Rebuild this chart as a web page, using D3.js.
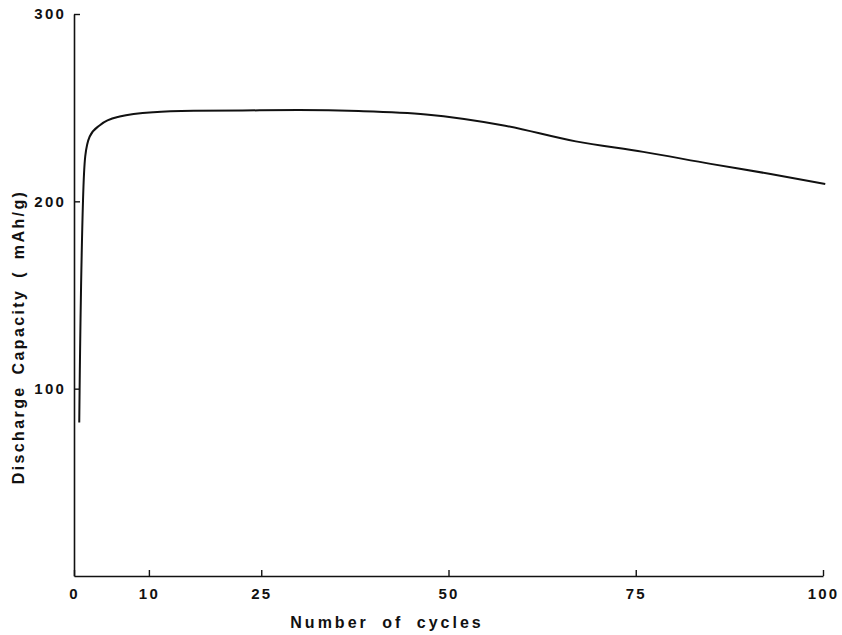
<!DOCTYPE html>
<html>
<head>
<meta charset="utf-8">
<script src="https://cdn.jsdelivr.net/npm/d3@7"></script>
<style>
    body { margin: 0; background: #fff; }
    svg { display: block; }
    .tick text { font-family: "Liberation Sans", Arial, sans-serif; font-weight: bold; font-size: 15px; letter-spacing: 2.2px; fill: #111; }
    .title { font-family: "Liberation Sans", Arial, sans-serif; font-weight: bold; font-size: 16px; fill: #111; }
</style>
</head>
<body>
<svg id="chart" width="842" height="635"></svg>
<script>
// values
const cycles   = [0.7, 0.75, 1.2, 1.5, 2.1, 3.5, 6.1, 10.6, 16, 22.5, 30, 38, 47, 57, 67, 76, 85, 93, 100.3];
const capacity = [82, 100, 200, 224, 234.6, 240.8, 245.3, 247.6, 248.3, 248.5, 248.7, 248.2, 246.4, 240.8, 232, 226.4, 220, 214.6, 209.3];

const xTicks = [0, 10, 25, 50, 75, 100];
const yTicks = [100, 200, 300];

const xTitle = 'Number of cycles';
const yTitle = 'Discharge Capacity ( mAh/g)';

const svg = d3.select('#chart');

const x = d3.scaleLinear().domain([0, 100]).range([74, 823]);
const y = d3.scaleLinear().domain([0, 300]).range([576, 14]);

const data = cycles.map((c, i) => ({ c, v: capacity[i] }));

// x axis
const gx = svg.append('g')
    .attr('transform', `translate(0,${y(0)})`)
    .call(d3.axisBottom(x).tickValues(xTicks).tickFormat(d3.format('d'))
        .tickSizeInner(-6).tickSizeOuter(0).tickPadding(12));
gx.select('.domain').attr('stroke', '#111').attr('stroke-width', 1.6);
gx.selectAll('.tick line').attr('stroke', '#111').attr('stroke-width', 1.4);

// y axis
const gy = svg.append('g')
    .attr('transform', `translate(${x(0)},0)`)
    .call(d3.axisLeft(y).tickValues(yTicks).tickFormat(d3.format('d'))
        .tickSizeInner(-6).tickSizeOuter(0).tickPadding(8));
gy.select('.domain').attr('stroke', '#111').attr('stroke-width', 1.6);
gy.selectAll('.tick line').attr('stroke', '#111').attr('stroke-width', 1.4);

// curve
const line = d3.line()
    .x(d => x(d.c))
    .y(d => y(d.v))
    .curve(d3.curveMonotoneX);

svg.append('path')
    .datum(data)
    .attr('d', line)
    .attr('fill', 'none')
    .attr('stroke', '#111')
    .attr('stroke-width', 2);

// titles
svg.append('text')
    .attr('class', 'title')
    .attr('x', 387)
    .attr('y', 628)
    .attr('text-anchor', 'middle')
    .style('letter-spacing', '3px')
    .style('word-spacing', '6px')
    .text(xTitle);

svg.append('text')
    .attr('class', 'title')
    .attr('transform', 'translate(24,337) rotate(-90)')
    .attr('text-anchor', 'middle')
    .style('letter-spacing', '2.4px')
    .style('word-spacing', '4px')
    .text(yTitle);
</script>
</body>
</html>
